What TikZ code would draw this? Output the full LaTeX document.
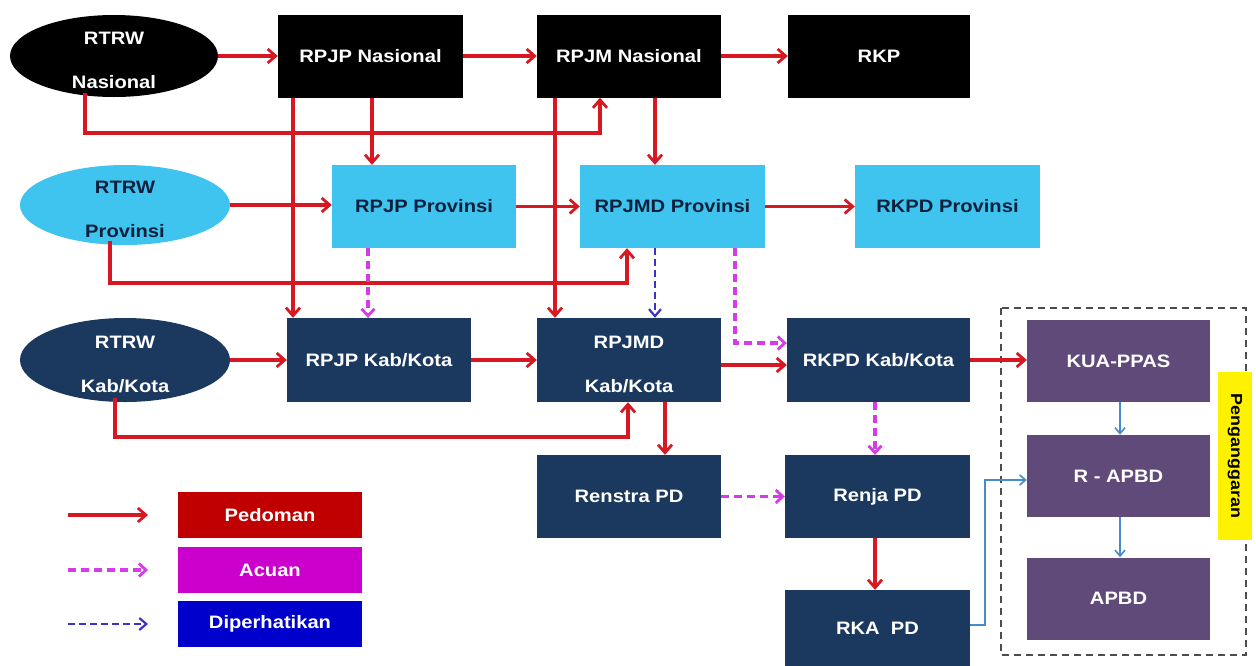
\documentclass[tikz,border=0pt]{standalone}
\usepackage{fontspec}
\setmainfont{Liberation Sans}[FakeStretch=1.12]
\usetikzlibrary{arrows.meta,calc,shapes.geometric}
\definecolor{lblue}{RGB}{62,196,238}
\definecolor{navy}{RGB}{27,57,94}
\definecolor{purp}{RGB}{96,74,122}
\definecolor{rline}{RGB}{214,24,34}
\definecolor{mline}{RGB}{214,60,230}
\definecolor{bline}{RGB}{60,50,200}
\definecolor{tline}{RGB}{70,140,205}
\definecolor{dtext}{RGB}{16,32,60}
\definecolor{pedo}{RGB}{192,0,0}
\definecolor{acu}{RGB}{204,0,204}
\definecolor{dip}{RGB}{0,0,204}
\newcommand{\tup}{\rule{0pt}{22pt}}
\tikzset{
  x=1pt,y=-1pt,
  fnt/.style={font=\fontsize{18}{21}\selectfont\bfseries},
  box/.style={rectangle,minimum width=184pt,minimum height=83pt,inner sep=0pt,fnt,align=center},
  blk/.style={box,fill=black,text=white},
  lb/.style={box,fill=lblue,text=dtext},
  nv/.style={box,fill=navy,text=white},
  pp/.style={box,fill=purp,text=white},
  ell/.style={ellipse,inner sep=-14pt,fnt,align=center},
  leg/.style={rectangle,minimum width=184pt,minimum height=46pt,inner sep=0pt,text=white,fnt},
  ra/.style={draw=rline,line width=3.2pt,-{Straight Barb[length=8pt,width=14pt,line width=2.8pt]}},
  ma/.style={draw=mline,line width=3.2pt,dash pattern=on 8pt off 5pt,-{Straight Barb[length=7pt,width=13pt,line width=2.8pt]}},
  ba/.style={draw=bline,line width=2.4pt,dash pattern=on 7pt off 4pt,-{Straight Barb[length=7pt,width=12pt,line width=2.2pt]}},
  ta/.style={draw=tline,line width=1.8pt,-{Straight Barb[length=6pt,width=10pt,line width=1.6pt]}},
}
\begin{document}
\begin{tikzpicture}
\useasboundingbox (0,0) rectangle (1256,665);
\fill[white] (0,0) rectangle (1256,665);
% dashed budget frame
\draw[draw=black!70,line width=1.6pt,dash pattern=on 7pt off 5pt] (1001,308) rectangle (1246,655);
% row 1
\node[ell,fill=black,text=white,minimum width=208pt,minimum height=82pt] (rtrwn) at (114,56) {\tup RTRW\\[23pt]Nasional};
\node[blk,minimum width=185pt] (rpjpn) at (370.5,56) {RPJP Nasional};
\node[blk] (rpjmn) at (629,56) {RPJM Nasional};
\node[blk,minimum width=182pt] (rkp) at (879,56) {RKP};
% row 2
\node[ell,fill=lblue,text=dtext,minimum width=210pt,minimum height=80pt] (rtrwp) at (125,205) {\tup RTRW\\[23pt]Provinsi};
\node[lb] (rpjpp) at (424,206.5) {RPJP Provinsi};
\node[lb,minimum width=185pt] (rpjmdp) at (672.5,206.5) {RPJMD Provinsi};
\node[lb,minimum width=185pt] (rkpdp) at (947.5,206.5) {RKPD Provinsi};
% row 3
\node[ell,fill=navy,text=white,minimum width=210pt,minimum height=84pt] (rtrwk) at (125,360) {\tup RTRW\\[23pt]Kab/Kota};
\node[nv,minimum height=84pt] (rpjpk) at (379,360) {RPJP Kab/Kota};
\node[nv,minimum height=84pt] (rpjmdk) at (629,360) {\tup RPJMD\\[23pt]Kab/Kota};
\node[nv,minimum height=84pt,minimum width=183pt] (rkpdk) at (878.5,360) {RKPD Kab/Kota};
\node[pp,minimum width=183pt,minimum height=82pt] (kua) at (1118.5,361) {KUA-PPAS};
\node[pp,minimum width=183pt,minimum height=82pt] (rapbd) at (1118.5,476) {R - APBD};
\node[pp,minimum width=183pt,minimum height=82pt] (apbd) at (1118.5,598.5) {APBD};
\node[nv] (renstra) at (629,496.5) {Renstra PD};
\node[nv,minimum width=185pt] (renja) at (877.5,496.5) {Renja PD};
\node[nv,minimum width=185pt,minimum height=76pt] (rka) at (877.5,628) {RKA\ \ PD};
\node[rectangle,fill=yellow,minimum width=34pt,minimum height=168pt,inner sep=0pt] (peng) at (1235,456) {};
\node[rotate=-90,font=\fontsize{16}{18}\selectfont\bfseries,text=black] at (peng.center) {Penganggaran};
% legend
\node[leg,fill=pedo] (lpedo) at (270,515) {Pedoman};
\node[leg,fill=acu] (lacu) at (270,570) {Acuan};
\node[leg,fill=dip] (ldip) at (270,623.5) {Diperhatikan};
\coordinate (l1) at (68,515);
\coordinate (l2) at (68,570);
\coordinate (l3) at (68,624);
\draw[ra] (l1) -- ++(80,0);
\draw[ma] (l2) -- ++(80,0);
\draw[ba] (l3) -- ++(80,0);
% row 1 connectors
\draw[ra] (rtrwn.east) -- (rtrwn.east -| rpjpn.west);
\draw[ra] (rpjpn.east) -- (rpjmn.west);
\draw[ra] (rpjmn.east) -- (rkp.west);
\draw[ra] (85,0 |- rtrwn.south) ++(0,-4) -- (85,133) -- (600,133) -- (600,0 |- rpjmn.south);
\draw[ra] (372,0 |- rpjpn.south) -- (372,0 |- rpjpp.north);
\draw[ra] (293,0 |- rpjpn.south) -- (293,0 |- rpjpk.north);
\draw[ra] (555,0 |- rpjmn.south) -- (555,0 |- rpjmdk.north);
\draw[ra] (655,0 |- rpjmn.south) -- (655,0 |- rpjmdp.north);
% row 2 connectors
\draw[ra] (rtrwp.east) -- (rtrwp.east -| rpjpp.west);
\draw[ra] (rpjpp.east) -- (rpjmdp.west);
\draw[ra] (rpjmdp.east) -- (rkpdp.west);
\draw[ra] (110,0 |- rtrwp.south) ++(0,-4) -- (110,283) -- (627,283) -- (627,0 |- rpjmdp.south);
\draw[ma] (368,0 |- rpjpp.south) -- (368,0 |- rpjpk.north);
\draw[ba] (655,0 |- rpjmdp.south) -- (655,0 |- rpjmdk.north);
\draw[ma] (735,0 |- rpjmdp.south) -- (735,343) -- (rkpdk.west |- 0,343);
% row 3 connectors
\draw[ra] (rtrwk.east) -- (rtrwk.east -| rpjpk.west);
\draw[ra] (rpjpk.east) -- (rpjmdk.west);
\draw[ra] (rpjmdk.east |- 0,365) -- (rkpdk.west |- 0,365);
\draw[ra] (115,0 |- rtrwk.south) ++(0,-4) -- (115,437) -- (628,437) -- (628,0 |- rpjmdk.south);
\draw[ra] (665,0 |- rpjmdk.south) -- (665,0 |- renstra.north);
\draw[ra,line width=3.8pt] (rkpdk.east) -- (rkpdk.east -| kua.west);
\draw[ma] (875,0 |- rkpdk.south) -- (875,0 |- renja.north);
\draw[ma] (renstra.east) -- (renja.west);
\draw[ra] (875,0 |- renja.south) -- (875,0 |- rka.north);
\draw[ta] (rka.east |- 0,625) -- (985,625) -- (985,480) -- (rapbd.west |- 0,480);
\draw[ta] (1120,0 |- kua.south) -- (1120,0 |- rapbd.north);
\draw[ta] (1120,0 |- rapbd.south) -- (1120,0 |- apbd.north);
\end{tikzpicture}
\end{document}
